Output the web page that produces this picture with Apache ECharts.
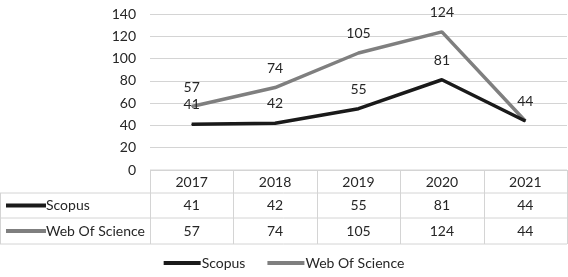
<!DOCTYPE html>
<html style="height: 100%">
<head>
<meta charset="utf-8">
<title>Scopus / Web Of Science</title>
<script src="https://cdn.jsdelivr.net/npm/echarts@6/dist/echarts.min.js"></script>
</head>
<body style="height: 100%; margin: 0; background: #fff">
<div id="container" style="width: 568px; height: 277px"></div>
<script type="text/javascript">
var years = ['2017', '2018', '2019', '2020', '2021'];
var scopus = [41, 42, 55, 81, 44];
var wos = [57, 74, 105, 124, 44];
var seriesNames = ['Scopus', 'Web Of Science'];
var seriesColors = ['#1a1a1a', '#7f7f7f'];

var font = 'Lato, "Open Sans", sans-serif';
var fs = 14;
var textColor = '#262626';
var lineColor = '#d4d4d4';

var dom = document.getElementById('container');
var myChart = echarts.init(dom);

var lineLabel = { show: true, position: 'top', distance: 12, fontSize: fs, color: textColor, fontFamily: font };

var option = {
    backgroundColor: '#fff',
    animation: false,
    textStyle: { fontFamily: font },
    grid: { left: 150, right: 1, top: 14, height: 156 },
    legend: {
        bottom: 2,
        left: 'center',
        itemWidth: 37,
        itemHeight: 4,
        itemGap: 22,
        icon: 'rect',
        textStyle: { fontSize: fs, color: textColor, fontFamily: font, padding: [0, 0, 0, -4] },
        data: seriesNames
    },
    xAxis: {
        type: 'category',
        data: years,
        boundaryGap: true,
        axisLine: { show: false },
        axisTick: { show: false },
        axisLabel: { show: false }
    },
    yAxis: {
        type: 'value',
        min: 0,
        max: 140,
        interval: 20,
        axisLine: { show: false },
        axisTick: { show: false },
        axisLabel: { fontSize: fs, color: textColor, margin: 14, fontFamily: font },
        splitLine: { lineStyle: { color: lineColor, width: 1 } }
    },
    series: [
        {
            name: seriesNames[0],
            type: 'line',
            data: scopus,
            symbol: 'circle',
            symbolSize: 1,
            z: 3,
            lineStyle: { color: seriesColors[0], width: 3.5 },
            itemStyle: { color: seriesColors[0] },
            label: lineLabel,
            labelLayout: { hideOverlap: true }
        },
        {
            name: seriesNames[1],
            type: 'line',
            data: wos,
            symbol: 'circle',
            symbolSize: 1,
            z: 2,
            lineStyle: { color: seriesColors[1], width: 3.5 },
            itemStyle: { color: seriesColors[1] },
            label: lineLabel,
            labelLayout: { hideOverlap: true }
        }
    ]
};
myChart.setOption(option);

// data table under the plot, built from the same arrays
function buildTable() {
    var g = [];
    var left = 150, right = 567;
    var yTop = 170, y1 = 193, y2 = 218, y3 = 244;
    var band = (right - left) / years.length;
    var tfont = fs + 'px ' + font;
    var line = function (x1, ya, x2, yb) {
        g.push({ type: 'line', shape: { x1: x1, y1: ya, x2: x2, y2: yb }, style: { stroke: lineColor, lineWidth: 1 }, silent: true });
    };
    line(left, yTop, right, yTop);
    line(0, y1, right, y1);
    line(0, y2, right, y2);
    line(0, y3, right, y3);
    line(0.5, y1, 0.5, y3);
    for (var k = 0; k <= years.length; k++) {
        var xx = Math.round(left + k * band) + 0.5;
        line(xx, yTop, xx, y3);
    }
    var rows = [scopus, wos];
    var rowMid = [(y1 + y2) / 2, (y2 + y3) / 2];
    for (var i = 0; i < years.length; i++) {
        var cx = myChart.convertToPixel({ xAxisIndex: 0 }, years[i]);
        g.push({ type: 'text', x: cx, y: (yTop + y1) / 2 + 1, style: { text: years[i], fill: textColor, font: tfont, align: 'center', verticalAlign: 'middle' } });
        for (var r = 0; r < rows.length; r++) {
            g.push({ type: 'text', x: cx, y: rowMid[r], style: { text: String(rows[r][i]), fill: textColor, font: tfont, align: 'center', verticalAlign: 'middle' } });
        }
    }
    for (var s = 0; s < seriesNames.length; s++) {
        g.push({ type: 'rect', shape: { x: 6, y: rowMid[s] - 2, width: 40, height: 4 }, style: { fill: seriesColors[s] } });
        g.push({ type: 'text', x: 46, y: rowMid[s], style: { text: seriesNames[s], fill: textColor, font: tfont, align: 'left', verticalAlign: 'middle' } });
    }
    myChart.setOption({ graphic: g });
}
buildTable();
</script>
</body>
</html>
